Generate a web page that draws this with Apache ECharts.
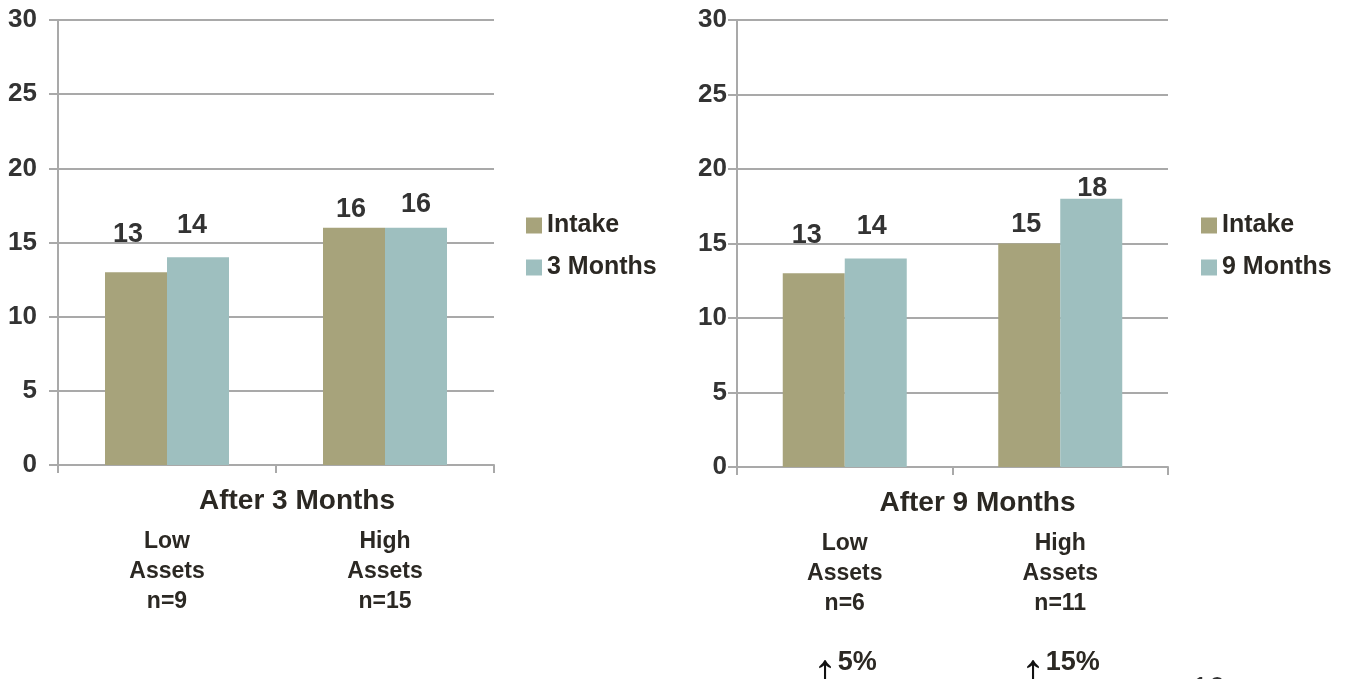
<!DOCTYPE html>
<html>
<head>
<meta charset="utf-8">
<script src="https://cdn.jsdelivr.net/npm/echarts@6/dist/echarts.min.js"></script>
<style>
  html, body { margin: 0; padding: 0; background: #ffffff; }
  #chart { width: 1353px; height: 679px; }
</style>
</head>
<body>
<div id="chart"></div>
<script>
// Panel 1: after 3 months
const categories3 = ['Low\nAssets\nn=9', 'High\nAssets\nn=15'];
const intake3 = [13, 16];
const months3 = [14, 16];

// Panel 2: after 9 months
const categories9 = ['Low\nAssets\nn=6', 'High\nAssets\nn=11'];
const intake9 = [13, 15];
const months9 = [14, 18];
const change9 = ['5%', '15%'];

const yTicks = { min: 0, max: 30, interval: 5 };

// value-label nudges [dx, dy] per bar
const nudgeIntake3 = [[-8, -24], [-3, -5]];
const nudgeMonths3 = [[-6, -18], [0, -10]];
const nudgeIntake9 = [[-7, -24], [-3, -5]];
const nudgeMonths9 = [[-4, -18], [1, 3]];

const FONT = "'Liberation Sans', Arial, sans-serif";
const INK = '#2b2823';
const NUM = '#333333';
const AXIS = '#a9a9a9';
const C_INTAKE = '#a7a37b';
const C_MONTHS = '#9ebfbf';

function barSeries(name, values, nudges, axisIdx, color) {
  return {
    type: 'bar',
    name: name,
    xAxisIndex: axisIdx,
    yAxisIndex: axisIdx,
    barWidth: 62,
    barGap: '0%',
    itemStyle: { color: color },
    label: {
      show: true,
      position: 'top',
      distance: 0,
      fontFamily: FONT,
      fontSize: 27,
      fontWeight: 'bold',
      color: NUM
    },
    data: values.map((v, i) => ({ value: v, label: { offset: nudges[i] } }))
  };
}

function categoryLabel(changes) {
  return function (value, idx) {
    const lines = value.split('\n').map(s => '{t|' + s + '}');
    if (changes) {
      lines.push('{t| }');
      lines.push('{a|\u2191}{p|' + changes[idx] + '}');
    }
    return lines.join('\n');
  };
}

const labelRich = {
  t: { fontFamily: FONT, fontSize: 23, fontWeight: 'bold', color: INK, lineHeight: 30 },
  // the up-arrow hangs a little lower than the percentage beside it
  a: { fontFamily: FONT, fontSize: 50, fontWeight: 'normal', color: '#111', lineHeight: 10,
       verticalAlign: 'top' },
  p: { fontFamily: FONT, fontSize: 27, fontWeight: 'bold', color: INK, lineHeight: 30,
       verticalAlign: 'top' }
};

function xAxisFor(gridIndex, cats, title, changes, shift) {
  return {
    type: 'category',
    gridIndex: gridIndex,
    data: cats,
    axisLine: { show: true, lineStyle: { color: AXIS, width: 2 } },
    axisTick: { show: true, length: 8, lineStyle: { color: AXIS, width: 2 } },
    axisLabel: {
      interval: 0,
      margin: 62,
      formatter: categoryLabel(changes),
      rich: labelRich
    },
    name: title,
    nameLocation: 'middle',
    nameGap: 22,
    nameMoveOverlap: false,
    nameTextStyle: {
      fontFamily: FONT, fontSize: 28, fontWeight: 'bold', color: INK,
      padding: [0, 0, 0, shift]
    }
  };
}

function yAxisFor(gridIndex, margin) {
  return {
    type: 'value',
    gridIndex: gridIndex,
    min: yTicks.min,
    max: yTicks.max,
    interval: yTicks.interval,
    axisLine: { show: true, lineStyle: { color: AXIS, width: 2 } },
    axisTick: { show: true, length: 9, lineStyle: { color: AXIS, width: 2 } },
    splitLine: { show: true, lineStyle: { color: AXIS, width: 2 } },
    axisLabel: {
      margin: margin,
      fontFamily: FONT, fontSize: 26, fontWeight: 'bold', color: NUM
    }
  };
}

function legendFor(left, items) {
  return {
    data: items,
    orient: 'vertical',
    left: left,
    top: 213,
    padding: 0,
    icon: 'rect',
    itemWidth: 16,
    itemHeight: 16,
    itemGap: 17,
    textStyle: { fontFamily: FONT, fontSize: 25, fontWeight: 'bold', color: INK }
  };
}

const chart = echarts.init(document.getElementById('chart'), null, { renderer: 'canvas' });
chart.setOption({
  animation: false,
  backgroundColor: '#ffffff',
  grid: [
    { left: 58, top: 20, width: 436, height: 445, outerBoundsMode: 'none' },
    { left: 737, top: 20, width: 431, height: 447, outerBoundsMode: 'none' }
  ],
  xAxis: [
    xAxisFor(0, categories3, 'After 3 Months', null, 42),
    xAxisFor(1, categories9, 'After 9 Months', change9, 50)
  ],
  yAxis: [yAxisFor(0, 21), yAxisFor(1, 10)],
  legend: [
    legendFor(526, ['Intake', '3 Months']),
    legendFor(1201, ['Intake', '9 Months'])
  ],
  series: [
    barSeries('Intake', intake3, nudgeIntake3, 0, C_INTAKE),
    barSeries('3 Months', months3, nudgeMonths3, 0, C_MONTHS),
    barSeries('Intake', intake9, nudgeIntake9, 1, C_INTAKE),
    barSeries('9 Months', months9, nudgeMonths9, 1, C_MONTHS)
  ],
  graphic: [{
    type: 'text',
    left: 1192,
    top: 674,
    style: { text: '10', fontFamily: FONT, fontSize: 30, fill: NUM }
  }]
});
</script>
</body>
</html>
